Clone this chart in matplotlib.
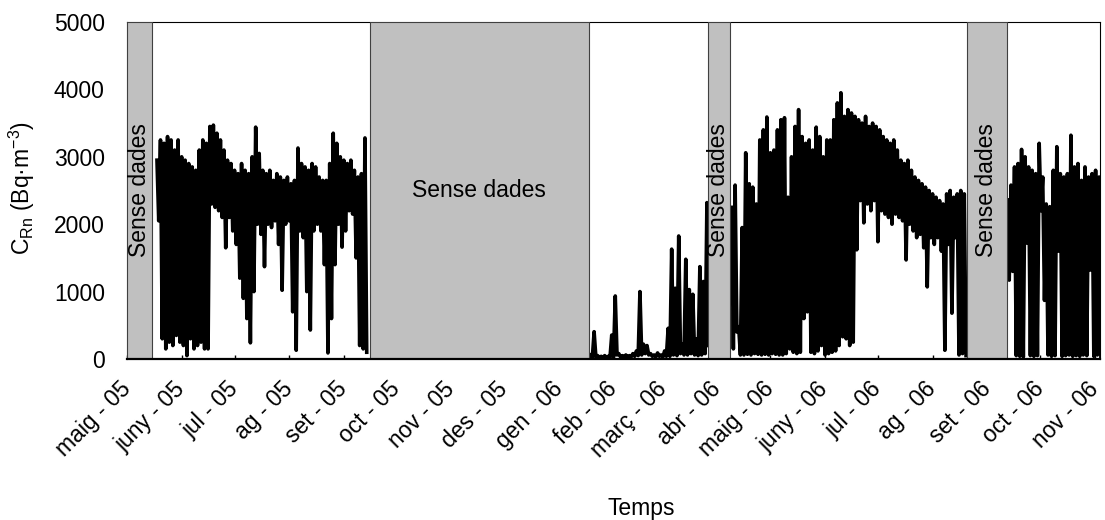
"""Concentració de radó (C_Rn) al llarg del temps, amb períodes sense dades."""

import numpy as np
import matplotlib
matplotlib.use("Agg")
import matplotlib.pyplot as plt
import matplotlib.dates as mdates

plt.rcParams['font.family'] = ['Liberation Sans', 'DejaVu Sans']
plt.rcParams['mathtext.fontset'] = 'custom'
plt.rcParams['mathtext.rm'] = 'Liberation Sans'
plt.rcParams['mathtext.it'] = 'Liberation Sans:italic'

# Valors llegits del gràfic: màxim i mínim cada 2 dies (Bq·m-3)
seg1_start = '2005-05-18'
seg1_hi = [2950, 3250, 3200, 3300, 3250, 3100, 3250, 3000, 2950, 2900,
           2850, 2800, 3100, 3250, 3200, 3450, 3470, 3350, 3250, 3100,
           2950, 2900, 2800, 2750, 2900, 2800, 2750, 3000, 3440, 3050,
           2800, 2750, 2800, 2650, 2750, 2700, 2650, 2700, 2600, 2650,
           3130, 2900, 2850, 2800, 2900, 2850, 2700, 2650, 2650, 2900,
           3350, 3200, 3000, 2950, 2900, 2950, 2800, 2700, 2750, 3280]
seg1_lo = [2050, 300, 150, 250, 200, 350, 250, 200, 50, 300,
           150, 200, 250, 150, 150, 2300, 2250, 2200, 2100, 1650,
           2100, 1900, 1700, 1200, 900, 600, 240, 1000, 2000, 1850,
           1370, 2000, 1950, 2050, 1700, 1020, 2000, 2050, 700, 130,
           1900, 1800, 1000, 430, 1900, 2000, 1900, 1400, 90, 600,
           1400, 2000, 1660, 1900, 2200, 2150, 1500, 200, 150, 100]

seg2_start = '2006-01-19'
seg2_hi = [60, 405, 50, 40, 50, 40, 355, 935, 80, 50,
           60, 50, 80, 120, 1000, 220, 200, 80, 60, 90,
           60, 120, 455, 1630, 1050, 1825, 220, 1480, 1030, 960,
           300, 1370, 1150, 2320]
seg2_lo = [20, 30, 20, 20, 20, 20, 30, 60, 30, 30,
           30, 30, 40, 50, 60, 80, 60, 40, 30, 40,
           30, 40, 40, 60, 50, 80, 60, 60, 80, 60,
           50, 60, 80, 200]

seg3_start = '2006-04-09'
seg3_hi = [2250, 2580, 480, 1950, 3060, 2600, 2550, 2300, 3250, 3400,
           3590, 3060, 3100, 3400, 3550, 3580, 2400, 3000, 3450, 3700,
           3300, 3200, 3250, 3100, 3440, 3300, 3000, 3250, 3250, 3550,
           3800, 3950, 3600, 3700, 3650, 3600, 3550, 3500, 3600, 3450,
           3500, 3450, 3400, 3300, 3250, 3200, 3250, 3100, 2950, 2900,
           2950, 2800, 2700, 2650, 2600, 2550, 2500, 2450, 2400, 2350,
           2300, 2450, 2500, 2400, 2450, 2500, 2450]
seg3_lo = [150, 400, 60, 60, 70, 60, 80, 70, 60, 70,
           60, 80, 70, 60, 60, 80, 150, 100, 80, 100,
           600, 700, 100, 80, 120, 200, 60, 80, 100, 120,
           200, 330, 300, 200, 250, 1620, 2350, 2020, 2300, 2200,
           2350, 1740, 2200, 2150, 2100, 2000, 2150, 2100, 2050, 1470,
           2000, 1900, 1800, 1850, 1650, 1070, 1800, 1700, 1800, 1600,
           130, 1700, 680, 1800, 60, 80, 50]

seg4_start = '2006-09-12T12'
seg4_hi = [2360, 2580, 2850, 2900, 3110, 3000, 2850, 2800, 2750, 3200,
           2700, 2300, 2260, 2800, 3150, 2750, 2700, 2750, 3320, 2850,
           2900, 2650, 2850, 2700, 2750, 2800, 2700]
seg4_lo = [1170, 1300, 50, 40, 30, 1720, 50, 40, 50, 2200,
           870, 60, 40, 50, 1600, 40, 50, 60, 40, 50,
           40, 60, 50, 1320, 40, 60, 40]

# Períodes sense dades
gaps = [('2005-05-01', '2005-05-15'),
        ('2005-09-15T14', '2006-01-18'),
        ('2006-03-26T12', '2006-04-08'),
        ('2006-08-20T12', '2006-09-12')]
gap_vertical = [True, False, True, True]

tick_dates = ['2005-05-01', '2005-06-01', '2005-07-01', '2005-08-01',
              '2005-09-01', '2005-10-01', '2005-11-01', '2005-12-01',
              '2006-01-01', '2006-02-01', '2006-03-01', '2006-04-01',
              '2006-05-01', '2006-06-01', '2006-07-01', '2006-08-01',
              '2006-09-01', '2006-10-01', '2006-11-01']
tick_labels = ['maig - 05', 'juny - 05', 'jul - 05', 'ag - 05', 'set - 05',
               'oct - 05', 'nov - 05', 'des - 05', 'gen - 06', 'feb - 06',
               'març - 06', 'abr - 06', 'maig - 06', 'juny - 06', 'jul - 06',
               'ag - 06', 'set - 06', 'oct - 06', 'nov - 06']


def to_num(d):
    return mdates.date2num(np.datetime64(d, 'h'))


def zigzag(start, hi, lo):
    """Alterna màxim i mínim: un punt cada dia."""
    t0 = np.datetime64(start, 'h')
    n = len(hi)
    days = np.arange(2 * n)
    t = t0 + days * np.timedelta64(24, 'h')
    y = np.empty(2 * n)
    y[0::2] = hi
    y[1::2] = lo
    return mdates.date2num(t), y


fig = plt.figure(figsize=(11.05, 5.2), dpi=100)
ax = fig.add_axes([127 / 1105, 1 - 359 / 520, 973 / 1105, 337 / 520])

for start, hi, lo in [(seg1_start, seg1_hi, seg1_lo),
                      (seg2_start, seg2_hi, seg2_lo),
                      (seg3_start, seg3_hi, seg3_lo),
                      (seg4_start, seg4_hi, seg4_lo)]:
    x, y = zigzag(start, hi, lo)
    ax.plot(x, y, color='black', lw=2.6, zorder=2)

for (d0, d1), vert in zip(gaps, gap_vertical):
    x0, x1 = to_num(d0), to_num(d1)
    ax.axvspan(x0, x1, facecolor='#c0c0c0', edgecolor='#404040', lw=0.8, zorder=3)
    ax.text((x0 + x1) / 2, 2500, 'Sense dades', rotation=90 if vert else 0,
            ha='center', va='center', fontsize=16.5, zorder=4)

ax.set_xlim(to_num('2005-05-01'), to_num('2006-11-04'))
ax.set_ylim(0, 5000)
ax.set_yticks(range(0, 5001, 1000))
ax.set_xticks([to_num(d) for d in tick_dates])
ax.set_xticklabels(tick_labels, rotation=45, ha='right', va='center',
                   rotation_mode='anchor')

ax.tick_params(axis='y', length=0, pad=16, labelsize=16.5)
ax.tick_params(axis='x', direction='in', length=3, width=1, pad=19, labelsize=16.5)
for side in ['top', 'right', 'left']:
    ax.spines[side].set_linewidth(0.8)
ax.spines['bottom'].set_linewidth(1.6)
ax.spines['bottom'].set_zorder(5)

fig.text(641 / 1105, 1 - 508 / 520, 'Temps', ha='center', va='center', fontsize=16.5)
fig.text(22 / 1105, 1 - 188 / 520, r'C$_{\mathrm{Rn}}$ (Bq·m$^{-3}$)',
         rotation=90, ha='center', va='center', fontsize=16.5)

fig.savefig('out.png', dpi=100)
plt.close(fig)
